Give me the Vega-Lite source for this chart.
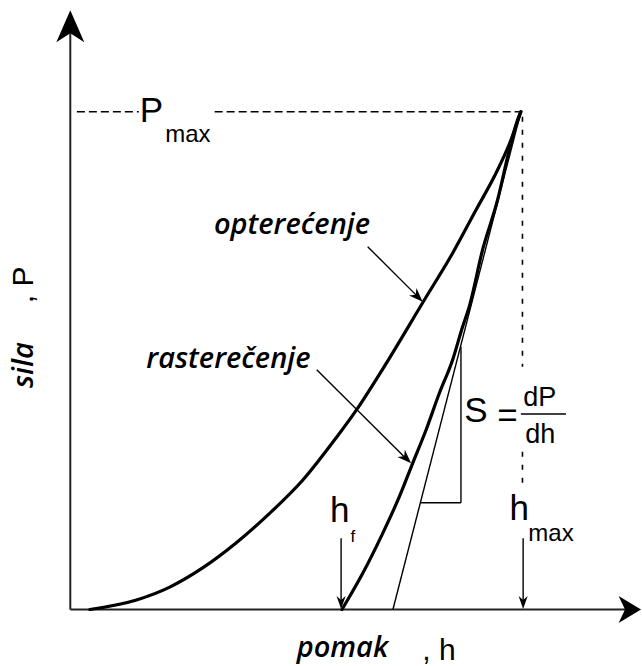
{
  "$schema": "https://vega.github.io/schema/vega-lite/v6.json",
  "width": 642,
  "height": 666,
  "autosize": {"type": "fit", "contains": "padding"},
  "padding": 0,
  "background": "white",
  "config": {"view": {"stroke": null}},
  "datasets": {
    "curves": [
      {"curve": "loading", "h": 4.34, "P": 0},
      {"curve": "loading", "h": 14.69, "P": 1.91},
      {"curve": "loading", "h": 22.07, "P": 4.5},
      {"curve": "loading", "h": 29.45, "P": 8.4},
      {"curve": "loading", "h": 36.85, "P": 13.4},
      {"curve": "loading", "h": 44.23, "P": 19.3},
      {"curve": "loading", "h": 51.61, "P": 26.01},
      {"curve": "loading", "h": 59.01, "P": 34.5},
      {"curve": "loading", "h": 63.44, "P": 40.0},
      {"curve": "loading", "h": 69.33, "P": 48.3},
      {"curve": "loading", "h": 78.57, "P": 62.18},
      {"curve": "loading", "h": 84.84, "P": 71.56},
      {"curve": "loading", "h": 90.03, "P": 80.25},
      {"curve": "loading", "h": 94.46, "P": 87.63},
      {"curve": "loading", "h": 97.79, "P": 94.32},
      {"curve": "loading", "h": 100, "P": 100},
      {"curve": "unloading", "h": 60.3, "P": 0},
      {"curve": "unloading", "h": 64.9, "P": 7.27},
      {"curve": "unloading", "h": 69.33, "P": 15.3},
      {"curve": "unloading", "h": 73.03, "P": 22.66},
      {"curve": "unloading", "h": 75.98, "P": 29.37},
      {"curve": "unloading", "h": 78.95, "P": 36.06},
      {"curve": "unloading", "h": 81.9, "P": 43.43},
      {"curve": "unloading", "h": 84.84, "P": 50.12},
      {"curve": "unloading", "h": 87.06, "P": 56.8},
      {"curve": "unloading", "h": 88.54, "P": 60.83},
      {"curve": "unloading", "h": 91.49, "P": 72.22},
      {"curve": "unloading", "h": 94.82, "P": 82.26},
      {"curve": "unloading", "h": 97.41, "P": 92.3},
      {"curve": "unloading", "h": 99.25, "P": 98.33},
      {"curve": "unloading", "h": 100, "P": 100}
    ],
    "pmaxDash": [
      {"h": 1.46, "h2": 15.2, "P": 100},
      {"h": 32.04, "h2": 99.8, "P": 100}
    ],
    "hmaxDash": [
      {"h": 100.35, "P": 99, "P2": 48.77},
      {"h": 100.35, "P": 31.7, "P2": 25.2}
    ],
    "axes": [
      {"name": "P axis", "h": 0, "P": 0, "h2": 0, "P2": 117},
      {"name": "h axis", "h": 0, "P": 0, "h2": 124, "P2": 0}
    ],
    "segments": [
      {"name": "tangent", "h": 71.6, "P": 0, "h2": 100, "P2": 100},
      {"name": "triangle base", "h": 77.84, "P": 21.45, "h2": 86.7, "P2": 21.45},
      {"name": "triangle side", "h": 86.7, "P": 21.45, "h2": 86.7, "P2": 52.8},
      {"name": "opterecenje arrow", "h": 66.0, "P": 72.88, "h2": 77.6, "P2": 62.4},
      {"name": "rasterecenje arrow", "h": 54.69, "P": 48.17, "h2": 75.0, "P2": 29.9},
      {"name": "hf arrow", "h": 60.1, "P": 14.3, "h2": 60.1, "P2": 1.5},
      {"name": "hmax arrow", "h": 100.5, "P": 14.3, "h2": 100.5, "P2": 1.5},
      {"name": "fraction bar", "h": 100, "P": 39.27, "h2": 110, "P2": 39.27}
    ],
    "diagHeads": [
      {"name": "opterecenje", "h": 78.2, "P": 61.83},
      {"name": "rasterecenje", "h": 75.63, "P": 29.37}
    ],
    "downHeads": [
      {"name": "hf", "h": 60.1, "P": 0.1},
      {"name": "hmax", "h": 100.5, "P": 0.1}
    ],
    "upHead": [{"name": "P axis", "h": 0, "P": 120.4}],
    "rightHead": [{"name": "h axis", "h": 126.66, "P": 0}],
    "bigText": [
      {"t": "P", "h": 15.42, "P": 97.93},
      {"t": "h", "h": 57.66, "P": 17.58},
      {"t": "h", "h": 97.47, "P": 17.98},
      {"t": "S", "h": 87.43, "P": 37.67},
      {"t": "=", "h": 94.75, "P": 36.66}
    ],
    "subText": [
      {"t": "max", "h": 21.07, "P": 93.9},
      {"t": "max", "h": 101.66, "P": 13.82}
    ],
    "fText": [{"t": "f", "h": 62.17, "P": 13.56}],
    "fracText": [
      {"t": "dP", "h": 104.17, "P": 40.88},
      {"t": "dh", "h": 104.28, "P": 33.45}
    ],
    "italicText": [
      {"t": "opterećenje", "h": 49.2, "P": 75.5},
      {"t": "rasterečenje", "h": 35.1, "P": 48.5},
      {"t": "pomak", "h": 60.4, "P": -9.54}
    ],
    "hLabel": [{"t": ", h", "h": 78.1, "P": -10.14}],
    "yItalic": [{"t": "sila", "h": -8.29, "P": 49.1}],
    "yPlain": [{"t": ",  P", "h": -8.29, "P": 65.2}]
  },
  "encoding": {
    "x": {"field": "h", "type": "quantitative", "scale": {"domain": [-15.6, 126.656], "nice": false, "zero": false}, "axis": null},
    "y": {"field": "P", "type": "quantitative", "scale": {"domain": [-11.35, 122.439], "nice": false, "zero": false}, "axis": null}
  },
  "layer": [
    {
      "data": {"name": "pmaxDash"},
      "mark": {"type": "rule", "strokeDash": [8, 4], "strokeWidth": 1.5, "color": "black"},
      "encoding": {"x2": {"field": "h2"}}
    },
    {
      "data": {"name": "hmaxDash"},
      "mark": {"type": "rule", "strokeDash": [5, 8], "strokeWidth": 1.6, "color": "black"},
      "encoding": {"y2": {"field": "P2"}}
    },
    {
      "data": {"name": "axes"},
      "mark": {"type": "rule", "strokeWidth": 2, "color": "#222222"},
      "encoding": {"x2": {"field": "h2"}, "y2": {"field": "P2"}}
    },
    {
      "data": {"name": "segments"},
      "mark": {"type": "rule", "strokeWidth": 1.4, "color": "black"},
      "encoding": {"x2": {"field": "h2"}, "y2": {"field": "P2"}}
    },
    {
      "data": {"name": "curves"},
      "mark": {"type": "line", "strokeWidth": 3.2, "color": "black", "interpolate": "monotone", "strokeCap": "round"},
      "encoding": {"detail": {"field": "curve"}}
    },
    {
      "data": {"name": "diagHeads"},
      "mark": {"type": "point", "shape": "M0,0L-2,-0.75L-1.4,0L-2,0.75Z", "filled": true, "color": "black", "opacity": 1, "size": 196, "angle": 45, "strokeWidth": 0}
    },
    {
      "data": {"name": "downHeads"},
      "mark": {"type": "point", "shape": "M0,0L-2,-0.7L-1.4,0L-2,0.7Z", "filled": true, "color": "black", "opacity": 1, "size": 169, "angle": 90, "strokeWidth": 0}
    },
    {
      "data": {"name": "upHead"},
      "mark": {"type": "point", "shape": "M0,0L-2,-0.875L-1.45,0L-2,0.875Z", "filled": true, "color": "black", "opacity": 1, "size": 1024, "angle": 270, "strokeWidth": 0}
    },
    {
      "data": {"name": "rightHead"},
      "mark": {"type": "point", "shape": "M0,0L-1.4,-0.85L-1,0L-1.4,0.85Z", "filled": true, "color": "black", "opacity": 1, "size": 1024, "angle": 0, "strokeWidth": 0}
    },
    {
      "data": {"name": "bigText"},
      "mark": {"type": "text", "font": "Liberation Sans", "fontSize": 35, "align": "left", "baseline": "alphabetic", "color": "black"},
      "encoding": {"text": {"field": "t"}}
    },
    {
      "data": {"name": "subText"},
      "mark": {"type": "text", "font": "Liberation Sans", "fontSize": 24, "align": "left", "baseline": "alphabetic", "color": "black"},
      "encoding": {"text": {"field": "t"}}
    },
    {
      "data": {"name": "fText"},
      "mark": {"type": "text", "font": "Liberation Sans", "fontSize": 17, "align": "left", "baseline": "alphabetic", "color": "black"},
      "encoding": {"text": {"field": "t"}}
    },
    {
      "data": {"name": "fracText"},
      "mark": {"type": "text", "font": "Liberation Sans", "fontSize": 27, "align": "center", "baseline": "alphabetic", "color": "black"},
      "encoding": {"text": {"field": "t"}}
    },
    {
      "data": {"name": "italicText"},
      "mark": {"type": "text", "font": "Open Sans", "fontSize": 29, "fontStyle": "italic", "fontWeight": 600, "align": "center", "baseline": "alphabetic", "color": "black"},
      "encoding": {"text": {"field": "t"}}
    },
    {
      "data": {"name": "hLabel"},
      "mark": {"type": "text", "font": "Liberation Sans", "fontSize": 30, "align": "left", "baseline": "alphabetic", "color": "black"},
      "encoding": {"text": {"field": "t"}}
    },
    {
      "data": {"name": "yItalic"},
      "mark": {"type": "text", "font": "Open Sans", "fontSize": 29, "fontStyle": "italic", "fontWeight": 600, "align": "center", "baseline": "alphabetic", "angle": 270, "color": "black"},
      "encoding": {"text": {"field": "t"}}
    },
    {
      "data": {"name": "yPlain"},
      "mark": {"type": "text", "font": "Liberation Sans", "fontSize": 30, "align": "center", "baseline": "alphabetic", "angle": 270, "color": "black"},
      "encoding": {"text": {"field": "t"}}
    }
  ]
}
